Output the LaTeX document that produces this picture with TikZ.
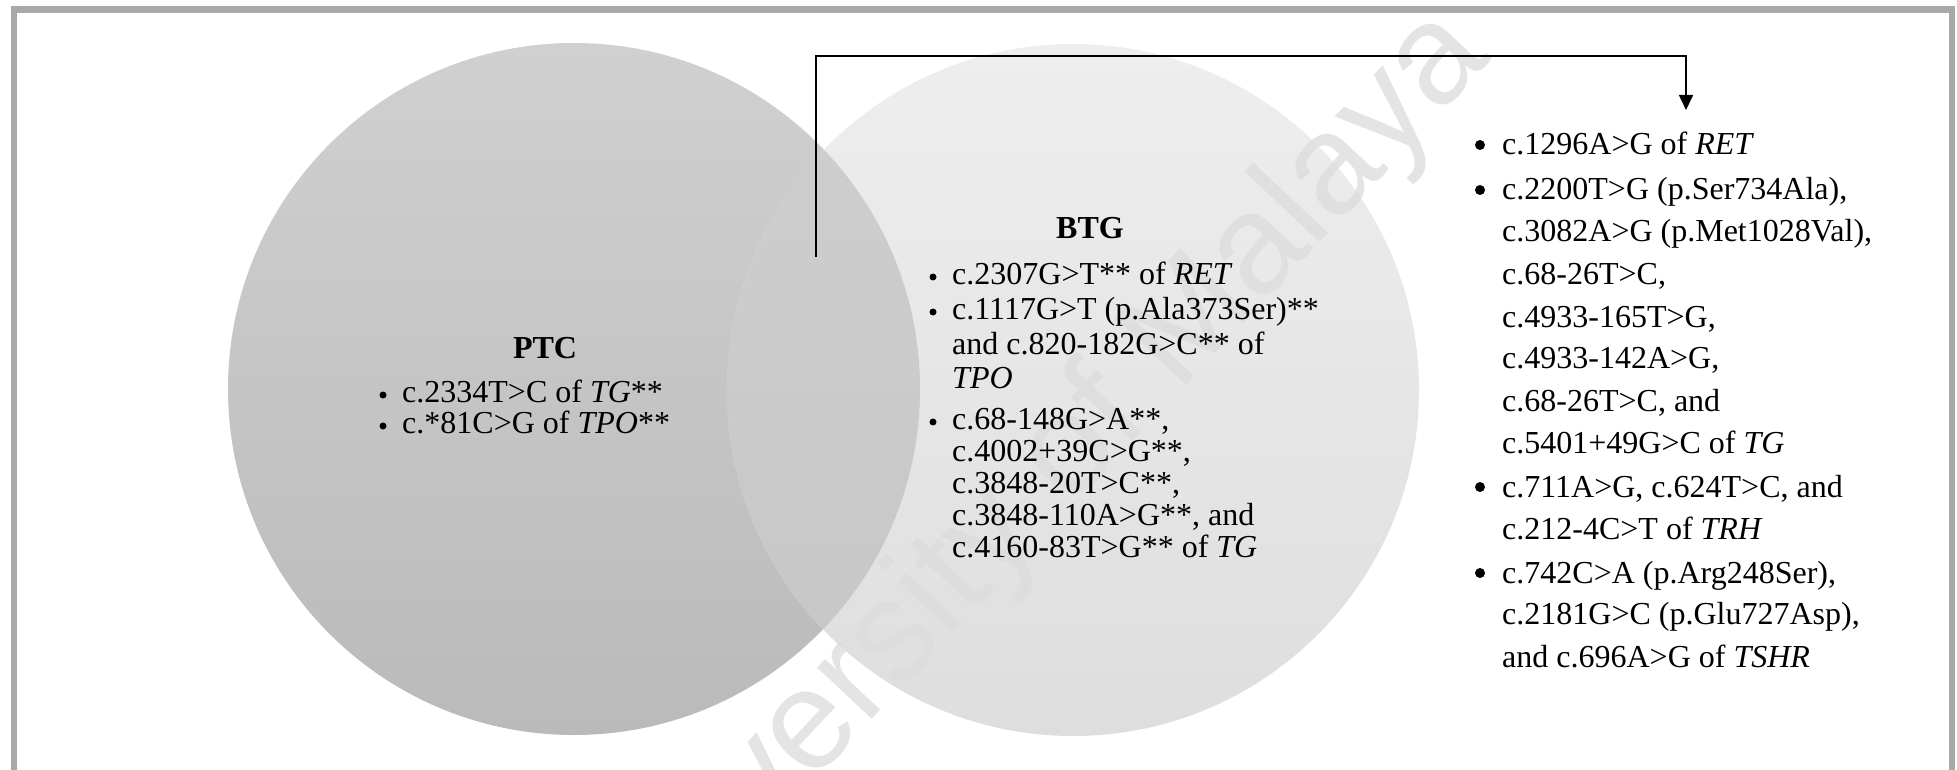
\documentclass[tikz,border=0pt]{standalone}
\usepackage{fontspec}
\setmainfont{Liberation Serif}
\newfontfamily\wmfont{Liberation Sans}
\usetikzlibrary{arrows.meta}
\definecolor{framegray}{HTML}{A8A8A8}
\definecolor{ptctop}{HTML}{D0D0D0}
\definecolor{ptcbot}{HTML}{BABABA}
\definecolor{btgtop}{HTML}{EEEEEE}
\definecolor{btgbot}{HTML}{DEDEDE}
\definecolor{ovtop}{HTML}{CFCFCF}
\definecolor{ovbot}{HTML}{C6C6C6}
\definecolor{wmgray}{HTML}{DCDCDC}
\begin{document}
\begin{tikzpicture}[x=1pt,y=-1pt,
  txt/.style={anchor=base west, inner sep=0pt, font=\fontsize{32}{32}\selectfont},
  head/.style={anchor=base, inner sep=0pt, font=\fontsize{32}{32}\selectfont\bfseries},
  sbul/.style={circle, fill=black, inner sep=0pt, minimum size=7pt, yshift=7pt},
  lbul/.style={circle, fill=black, inner sep=0pt, minimum size=10pt, yshift=10pt},
  venn/.style={circle, inner sep=0pt, minimum size=692pt},
  link/.style={line width=1.6pt, -{Triangle[length=15pt,width=14pt]}}
]
\useasboundingbox (0,0) rectangle (1957,770);
\fill[white] (0,0) rectangle (1957,770);
% frame
\draw[framegray, line width=6.5pt] (14,9.5) rectangle (1952,800);
% Venn circles
\node[venn, top color=ptctop, bottom color=ptcbot] (ptc) at (574,389) {};
\node[venn, top color=btgtop, bottom color=btgbot] (btg) at (1073,390) {};
\begin{scope}
  \clip (ptc.center) circle[radius=346pt];
  \shade[top color=ovtop, bottom color=ovbot] (btg.center) circle[radius=346pt];
\end{scope}
% watermark
\node[rotate=46.8, font=\wmfont\fontsize{142}{142}\selectfont, text=wmgray, text opacity=0.75] (wm) at (1028,500) {University of Malaya};
% PTC
\node[head] (ptchead) at (545,358) {PTC};
\node[sbul] (pb1) at (383,402) {};
\node[txt] (p1) at (402,402) {c.2334T>C of \textit{TG}**};
\node[sbul] (pb2) at (383,433) {};
\node[txt] (p2) at (402,433) {c.*81C>G of \textit{TPO}**};
% BTG
\node[head] (btghead) at (1090,238) {BTG};
\node[sbul] (bb1) at (933,284) {};
\node[txt] (b1) at (952,284) {c.2307G>T** of \textit{RET}};
\node[sbul] (bb2) at (933,319) {};
\node[txt] (b2a) at (952,319) {c.1117G>T (p.Ala373Ser)**};
\node[txt] (b2b) at (952,354) {and c.820-182G>C** of};
\node[txt] (b2c) at (952,388) {\textit{TPO}};
\node[sbul] (bb3) at (933,429) {};
\node[txt] (b3a) at (952,429) {c.68-148G>A**,};
\node[txt] (b3b) at (952,461) {c.4002+39C>G**,};
\node[txt] (b3c) at (952,493) {c.3848-20T>C**,};
\node[txt] (b3d) at (952,525) {c.3848-110A>G**, and};
\node[txt] (b3e) at (952,557) {c.4160-83T>G** of \textit{TG}};
% right list
\node[lbul] (rb1) at (1480,155) {};
\node[txt] (r1) at (1502,155) {c.1296A>G of \textit{RET}};
\node[lbul] (rb2) at (1480,200) {};
\node[txt] (r2a) at (1502,200) {c.2200T>G (p.Ser734Ala),};
\node[txt] (r2b) at (1502,242) {c.3082A>G (p.Met1028Val),};
\node[txt] (r2c) at (1502,284) {c.68-26T>C,};
\node[txt] (r2d) at (1502,327) {c.4933-165T>G,};
\node[txt] (r2e) at (1502,368) {c.4933-142A>G,};
\node[txt] (r2f) at (1502,411) {c.68-26T>C, and};
\node[txt] (r2g) at (1502,453) {c.5401+49G>C of \textit{TG}};
\node[lbul] (rb3) at (1480,497) {};
\node[txt] (r3a) at (1502,497) {c.711A>G, c.624T>C, and};
\node[txt] (r3b) at (1502,539) {c.212-4C>T of \textit{TRH}};
\node[lbul] (rb4) at (1480,583) {};
\node[txt] (r4a) at (1502,583) {c.742C>A (p.Arg248Ser),};
\node[txt] (r4b) at (1502,624) {c.2181G>C (p.Glu727Asp),};
\node[txt] (r4c) at (1502,667) {and c.696A>G of \textit{TSHR}};
% connector
\coordinate (src) at (816,257);
\coordinate (turn) at (816,56);
\coordinate (dst) at (1686,110);
\draw[link] (src) -- (turn) -| (dst);
\end{tikzpicture}
\end{document}
